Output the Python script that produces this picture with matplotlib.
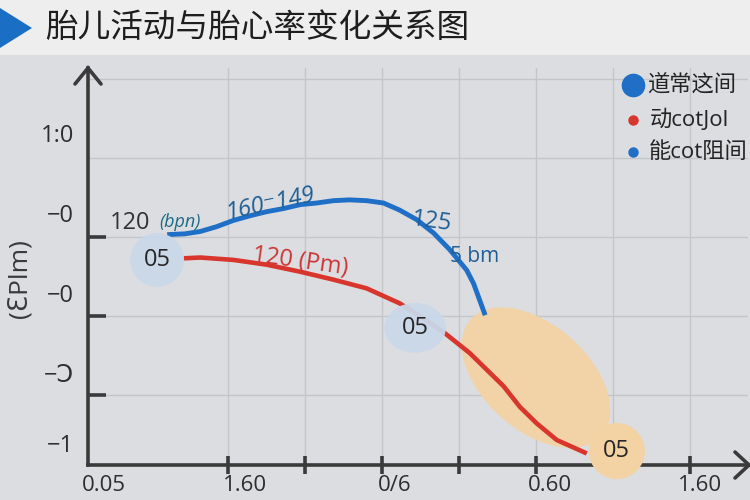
import matplotlib
matplotlib.use("Agg")
import matplotlib.pyplot as plt
from matplotlib.lines import Line2D
from matplotlib.patches import Ellipse, Polygon, Rectangle

plt.rcParams['font.family'] = ['Open Sans', 'Noto Sans CJK SC', 'DejaVu Sans']

# ---- data (chart units: grid lines sit on whole numbers) ----
title = "胎儿活动与胎心率变化关系图"
y_label = "(ƐPlm)"

x_grid = [1, 2, 3, 4, 5, 6, 7]
y_grid = [1, 2, 3, 4, 5]
x_tick_marks = [1, 2, 3, 4, 5, 6, 7]
y_tick_marks = [1, 2, 3]

x_label_pos = [-0.61, 1.22, 3.17, 5.18, 7.13]
x_labels = ["0.05", "1.60", "0/6", "0.60", "1.60"]
y_label_pos = [4.32, 3.30, 2.29, 1.28, 0.39]
y_labels = ["1:0", "−0", "−0", "−Ɔ", "−1"]

blue_x = [0.21, 0.44, 0.64, 0.85, 1.07, 1.29, 1.50, 1.72, 1.94, 2.15, 2.37,
          2.58, 2.80, 3.02, 3.23, 3.45, 3.67, 3.88, 4.10, 4.19, 4.34]
blue_y = [3.03, 3.04, 3.07, 3.13, 3.21, 3.27, 3.32, 3.36, 3.41, 3.43, 3.46,
          3.47, 3.46, 3.43, 3.34, 3.22, 3.05, 2.84, 2.58, 2.41, 2.01]

red_x = [0.42, 0.64, 1.07, 1.50, 1.94, 2.37, 2.80, 3.23, 3.52, 3.82, 4.14,
         4.36, 4.58, 4.79, 5.01, 5.27, 5.66]
red_y = [2.73, 2.74, 2.71, 2.65, 2.56, 2.46, 2.35, 2.16, 1.98, 1.78, 1.53,
         1.32, 1.11, 0.85, 0.64, 0.43, 0.26]

# bubbles: (x, y, width, height, text)
blue_bubbles = [(0.08, 2.71, 0.70, 0.68, "05"), (3.43, 1.85, 0.80, 0.63, "05")]
orange_blob = (5.00, 1.22, 2.25, 1.35, -40)
orange_bubble = (6.05, 0.29, 0.73, 0.71, "05")

legend_labels = ["道常这间", "动cotJol", "能cot阻间"]
legend_colors = ["#1f6fc6", "#d8352c", "#1f6fc6"]
legend_sizes = [16, 6.5, 6.5]

AX_COL = "#3a3a3a"
BLUE = "#1f6fc6"
RED = "#d8352c"
TEAL = "#1f5f95"


def fx(px):
    return px / 750


def fy(py):
    return 1 - py / 500


fig = plt.figure(figsize=(7.5, 5), dpi=100, facecolor="#dcdde0")

# title band
fig.add_artist(Rectangle((0, fy(55)), 1, 55 / 500, transform=fig.transFigure,
                         facecolor="#eeeeee", edgecolor="none", zorder=0))
fig.add_artist(Polygon([(fx(0), fy(8)), (fx(32), fy(28)), (fx(0), fy(48))],
                       closed=True, transform=fig.transFigure,
                       facecolor="#1a6fc4", edgecolor="none"))
fig.text(fx(45), fy(28), title, fontsize=23.5, color="#1e1e1e",
         va="center", ha="left", family=['Noto Sans CJK SC', 'DejaVu Sans'])

ax = fig.add_axes([fx(88), fy(465), (748 - 88) / 750, (465 - 68) / 500])
ax.set_facecolor("#dcdde0")
ax.set_xlim(1 + (88 - 228) / 77, 1 + (748 - 228) / 77)
ax.set_ylim(1 - (465 - 395) / 79, 1 + (395 - 68) / 79)

for s in ["top", "right"]:
    ax.spines[s].set_visible(False)
for s in ["left", "bottom"]:
    ax.spines[s].set_color(AX_COL)
    ax.spines[s].set_linewidth(2.6)

for gx in x_grid:
    ax.axvline(gx, color="#c4c5c8", lw=1, zorder=0)
for gy in y_grid:
    ax.axhline(gy, color="#c4c5c8", lw=1, zorder=0)

ax.set_xticks(x_label_pos, labels=x_labels)
ax.set_yticks(y_label_pos, labels=y_labels)
ax.set_xticks(x_tick_marks, minor=True)
ax.set_yticks(y_tick_marks, minor=True)
ax.tick_params(which="major", length=0, labelsize=17, colors="#2e2e2e")
ax.tick_params(axis="x", which="major", pad=7, labelsize=16)
ax.tick_params(axis="y", which="major", pad=10)
ax.tick_params(axis="x", which="minor", direction="inout", length=13,
               width=2.6, color=AX_COL)
ax.tick_params(axis="y", which="minor", direction="in", length=13,
               width=2.6, color=AX_COL)

# arrow heads
for pts in ([(75, 84), (88, 68), (101, 84)], [(735, 452), (749, 465), (735, 478)]):
    fig.add_artist(Line2D([fx(p[0]) for p in pts], [fy(p[1]) for p in pts],
                          transform=fig.transFigure, color=AX_COL, lw=2.6,
                          solid_capstyle="round", solid_joinstyle="miter"))

fig.text(fx(20), fy(279), y_label, rotation=90, fontsize=19, color=AX_COL,
         ha="center", va="center")

# orange blob under curves
ex, ey, ew, eh, ang = orange_blob
ax.add_patch(Ellipse((ex, ey), ew, eh, angle=ang, facecolor="#f3d3a4",
                     edgecolor="none", alpha=0.95, zorder=2))

ax.plot(blue_x, blue_y, color=BLUE, lw=3.5, zorder=3, solid_capstyle="butt",
        solid_joinstyle="round")
ax.plot(red_x, red_y, color=RED, lw=3.3, zorder=3, solid_capstyle="butt",
        solid_joinstyle="round")

for bx, by, bw, bh, txt in blue_bubbles:
    ax.add_patch(Ellipse((bx, by), bw, bh, facecolor="#c9d8e9",
                         edgecolor="none", alpha=0.95, zorder=4))
    ax.text(bx, by, txt, fontsize=17, color="#262626", ha="center",
            va="center", zorder=5)

ox, oy, ow, oh, otxt = orange_bubble
ax.add_patch(Ellipse((ox, oy), ow, oh, facecolor="#f3d3a4", edgecolor="none",
                     zorder=6, clip_on=False))
ax.text(ox, oy, otxt, fontsize=17, color="#262626", ha="center",
        va="center", zorder=7)

# curve annotations
ax.text(-0.27, 3.18, "120", fontsize=17, color="#333333", ha="center",
        va="center", zorder=5)
ax.text(0.38, 3.19, "(bpn)", fontsize=13, color="#1d6b86", style="italic",
        ha="center", va="center", zorder=5)
ax.text(1.55, 3.42, "160⁻149", fontsize=17, color=TEAL, style="italic",
        rotation=12, ha="center", va="center", zorder=5)
ax.text(3.65, 3.19, "125", fontsize=17, color=TEAL, rotation=-8,
        ha="center", va="center", zorder=5)
ax.text(4.20, 2.75, "5 bm", fontsize=15, color=TEAL, ha="center",
        va="center", zorder=5)
ax.text(1.94, 2.69, "120 (Pm)", fontsize=17, color="#cc3535", rotation=-8,
        ha="center", va="center", zorder=5)

# legend
for i, (lab, col, ms) in enumerate(zip(legend_labels, legend_colors, legend_sizes)):
    py = [85, 120, 152][i]
    tx = [647, 650, 649][i]
    fig.add_artist(Line2D([fx(633)], [fy(py)], transform=fig.transFigure,
                          marker="o", markersize=ms, color=col, lw=0))
    fig.text(fx(tx), fy(py), lab, fontsize=16, color="#232323",
             ha="left", va="center")

fig.savefig("out.png", dpi=100, facecolor=fig.get_facecolor())
